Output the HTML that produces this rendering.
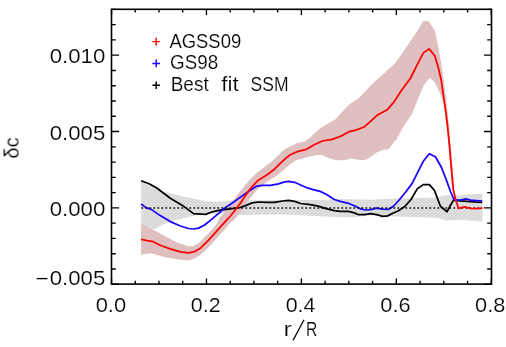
<!DOCTYPE html>
<html><head><meta charset="utf-8"><title>plot</title>
<style>
html,body{margin:0;padding:0;background:#fff;}
body{width:506px;height:347px;overflow:hidden;}
svg{display:block;}
text{font-family:"Liberation Sans",sans-serif;font-size:19.3px;fill:#000;stroke:#fff;stroke-width:0.18px;}
</style></head><body>
<svg width="506" height="347" viewBox="0 0 506 347">
<rect width="506" height="347" fill="#fff"/>
<polygon points="141.1,180.8 149.2,183.8 157.2,188.2 162.3,191.5 166.3,192.3 182.4,196.3 206.6,201.5 220.0,201.4 232.1,200.8 246.2,200.4 280.5,200.0 300.6,200.0 320.2,199.9 340.3,199.1 370.6,199.8 390.0,198.8 410.2,198.2 436.4,197.6 444.4,195.3 460.6,195.3 482.3,193.5 482.3,221.8 460.6,219.8 446.5,220.4 436.4,217.7 410.2,216.9 390.0,216.3 370.6,215.3 354.4,217.3 340.3,217.3 320.2,216.3 300.0,215.3 280.5,214.5 260.3,214.8 240.2,215.0 225.8,213.4 211.4,213.8 200.6,214.6 188.5,217.1 176.4,220.1 164.3,224.1 154.2,229.2 141.1,226.0" fill="#dcdcdc"/>
<polygon points="141.1,224.1 154.2,230.2 164.3,235.8 176.4,242.3 188.5,246.3 193.5,245.9 199.6,242.3 208.6,233.2 216.7,224.1 220.0,217.5 228.1,208.5 236.1,196.4 244.2,186.3 250.2,179.2 256.3,173.2 264.4,167.1 272.4,161.1 278.5,155.0 283.5,150.0 290.0,146.5 298.1,142.8 304.1,142.0 310.2,137.4 320.2,128.3 330.3,122.3 335.2,119.5 344.3,109.5 350.3,103.4 358.4,98.4 364.4,92.3 370.5,85.6 378.5,78.2 386.3,71.3 394.4,64.0 402.3,53.3 410.3,41.3 418.4,29.2 423.4,21.1 428.5,21.1 435.0,31.0 439.0,50.3 442.0,68.5 443.6,80.0 445.0,90.2 447.4,110.3 449.0,126.5 450.7,146.1 452.1,162.3 453.3,176.4 454.4,189.1 456.5,199.2 459.0,207.0 458.0,207.0 455.0,199.2 452.4,189.1 451.2,176.4 450.0,162.3 448.6,146.1 446.5,126.5 444.5,110.3 442.6,100.2 439.6,92.2 434.5,82.1 429.5,77.7 423.4,86.1 418.4,98.2 412.3,113.3 402.3,128.5 396.2,140.0 394.8,141.0 388.7,149.1 382.7,150.1 376.6,152.5 370.6,157.1 364.5,160.2 358.5,159.8 350.4,158.5 344.4,160.2 336.3,160.2 328.2,158.1 322.2,155.1 316.1,155.1 308.1,157.1 300.0,159.2 296.6,160.1 290.6,164.1 284.5,169.2 278.5,174.2 272.4,178.2 266.4,182.3 258.3,188.3 252.3,195.4 246.2,203.4 240.2,212.5 234.1,220.0 230.0,223.1 224.8,229.2 216.7,238.2 208.6,247.3 200.6,254.8 194.5,258.4 188.5,260.4 178.4,259.4 166.3,257.4 156.2,254.8 150.2,253.3 141.1,254.8" fill="#dfbfbf"/>
<polyline points="141.1,180.8 149.2,183.8 157.2,188.2 162.3,192.3 170.3,198.3 182.4,205.4 193.5,213.6 205.6,214.4 211.7,212.0 218.7,210.4 230.1,208.9 240.2,207.5 246.2,205.4 252.3,202.8 258.3,202.0 266.4,202.4 274.4,202.4 282.5,201.0 288.5,200.4 294.6,201.4 300.6,203.5 310.1,204.6 318.1,206.2 326.2,208.6 334.3,210.6 340.3,211.3 348.4,211.3 354.4,212.9 358.5,214.7 364.5,214.7 370.6,213.7 376.6,214.7 382.7,216.3 387.7,215.9 392.7,213.3 398.1,211.0 405.1,206.3 411.2,199.2 417.2,188.9 423.3,184.6 429.3,184.6 434.4,190.3 440.4,206.3 447.1,211.7 450.5,205.2 453.5,200.2 460.6,200.8 470.6,201.6 482.3,202.5" fill="none" stroke="#000" stroke-width="1.75" stroke-linejoin="round"/>
<polyline points="141.1,204.0 146.1,207.6 151.2,209.4 160.2,215.6 170.3,221.6 180.4,226.0 188.5,228.5 193.5,229.0 198.5,228.1 204.6,225.0 210.6,220.1 218.7,213.4 224.0,208.5 230.1,204.4 240.2,197.4 250.2,190.3 256.3,186.3 262.3,185.3 270.4,185.3 278.5,183.9 284.5,181.9 288.5,181.3 294.6,182.3 300.6,185.0 308.1,188.2 314.1,189.8 320.2,191.4 326.2,194.2 334.3,199.5 340.3,201.3 348.4,203.3 354.4,205.8 360.5,208.8 365.5,210.0 370.6,209.6 376.6,208.1 382.7,209.1 388.7,209.3 393.8,206.0 399.6,199.5 406.1,191.5 412.2,183.4 418.2,171.3 423.3,161.3 429.3,153.8 435.4,156.8 441.4,167.3 446.5,180.4 450.5,191.5 453.5,198.5 455.0,199.8 460.6,200.2 465.6,198.8 470.6,200.2 482.3,201.0" fill="none" stroke="#1a00ff" stroke-width="1.75" stroke-linejoin="round"/>
<line x1="141.5" y1="208.0" x2="482.3" y2="208.0" stroke="#000" stroke-width="1.6" stroke-dasharray="1.6 2.4"/>
<polyline points="141.1,239.4 147.1,240.6 152.2,241.3 160.2,245.3 170.3,248.9 180.4,251.9 188.5,252.9 194.5,251.7 200.6,247.9 208.6,240.2 216.7,231.2 224.8,222.1 230.0,216.5 234.1,211.5 240.2,203.4 246.2,194.4 252.3,186.3 258.3,180.2 266.4,175.2 274.4,169.2 280.5,163.1 286.5,157.6 290.0,155.0 294.6,152.8 298.1,151.4 306.4,149.3 314.2,144.8 322.3,141.0 332.3,139.4 340.4,136.4 348.5,131.9 356.5,129.9 364.6,126.7 370.6,121.3 376.7,115.6 387.6,109.4 393.7,102.4 400.7,91.5 410.3,78.5 412.3,74.5 418.4,62.4 423.4,52.9 429.1,48.9 434.9,56.0 438.5,68.5 441.2,80.0 442.6,90.2 445.6,110.3 447.6,126.5 449.5,146.1 450.9,162.3 452.1,176.4 453.2,189.1 455.5,199.2 458.5,208.3 464.6,206.9 470.6,208.3 476.7,208.7 482.3,208.2" fill="none" stroke="#ff0000" stroke-width="1.75" stroke-linejoin="round"/>
<path d="M111.50 284.1 v-5.6 M111.50 9.3 v5.6 M135.24 284.1 v-3.3 M135.24 9.3 v3.3 M158.97 284.1 v-3.3 M158.97 9.3 v3.3 M182.71 284.1 v-3.3 M182.71 9.3 v3.3 M206.45 284.1 v-5.6 M206.45 9.3 v5.6 M230.19 284.1 v-3.3 M230.19 9.3 v3.3 M253.93 284.1 v-3.3 M253.93 9.3 v3.3 M277.66 284.1 v-3.3 M277.66 9.3 v3.3 M301.40 284.1 v-5.6 M301.40 9.3 v5.6 M325.14 284.1 v-3.3 M325.14 9.3 v3.3 M348.88 284.1 v-3.3 M348.88 9.3 v3.3 M372.61 284.1 v-3.3 M372.61 9.3 v3.3 M396.35 284.1 v-5.6 M396.35 9.3 v5.6 M420.09 284.1 v-3.3 M420.09 9.3 v3.3 M443.83 284.1 v-3.3 M443.83 9.3 v3.3 M467.56 284.1 v-3.3 M467.56 9.3 v3.3 M491.30 284.1 v-5.6 M491.30 9.3 v5.6 M111.5 284.26 h7.6 M491.5 284.26 h-7.6 M111.5 268.99 h4.3 M491.5 268.99 h-4.3 M111.5 253.72 h4.3 M491.5 253.72 h-4.3 M111.5 238.44 h4.3 M491.5 238.44 h-4.3 M111.5 223.17 h4.3 M491.5 223.17 h-4.3 M111.5 207.90 h7.6 M491.5 207.90 h-7.6 M111.5 192.63 h4.3 M491.5 192.63 h-4.3 M111.5 177.36 h4.3 M491.5 177.36 h-4.3 M111.5 162.08 h4.3 M491.5 162.08 h-4.3 M111.5 146.81 h4.3 M491.5 146.81 h-4.3 M111.5 131.54 h7.6 M491.5 131.54 h-7.6 M111.5 116.27 h4.3 M491.5 116.27 h-4.3 M111.5 101.00 h4.3 M491.5 101.00 h-4.3 M111.5 85.72 h4.3 M491.5 85.72 h-4.3 M111.5 70.45 h4.3 M491.5 70.45 h-4.3 M111.5 55.18 h7.6 M491.5 55.18 h-7.6 M111.5 39.91 h4.3 M491.5 39.91 h-4.3 M111.5 24.64 h4.3 M491.5 24.64 h-4.3 M111.5 9.36 h4.3 M491.5 9.36 h-4.3" stroke="#000" stroke-width="1.35" fill="none"/>
<rect x="111.5" y="9.3" width="380.0" height="274.8" fill="none" stroke="#000" stroke-width="1.6"/>
<path d="M152.39999999999998 41.6 h7.6 M156.2 37.800000000000004 v7.6" stroke="#ff0000" stroke-width="1.45" fill="none"/>
<path d="M152.39999999999998 63.4 h7.6 M156.2 59.6 v7.6" stroke="#1a00ff" stroke-width="1.45" fill="none"/>
<path d="M152.39999999999998 85.3 h7.6 M156.2 81.5 v7.6" stroke="#000" stroke-width="1.45" fill="none"/>
<g opacity="0.999">
<text x="169.4" y="47.5" text-anchor="start" textLength="71.8" lengthAdjust="spacingAndGlyphs" >AGSS09</text>
<text x="170" y="69.2" text-anchor="start" textLength="48.1" lengthAdjust="spacingAndGlyphs" >GS98</text>
<text x="170.7" y="91.0" text-anchor="start" textLength="38" lengthAdjust="spacingAndGlyphs" >Best</text>
<text x="221.3" y="91.0" text-anchor="start" textLength="17.5" lengthAdjust="spacingAndGlyphs" >fit</text>
<text x="250.6" y="91.0" text-anchor="start" textLength="38" lengthAdjust="spacingAndGlyphs" >SSM</text>
<text x="105.3" y="63.2" text-anchor="end" textLength="55.6" lengthAdjust="spacingAndGlyphs" >0.010</text>
<text x="105.3" y="140.0" text-anchor="end" textLength="55.6" lengthAdjust="spacingAndGlyphs" >0.005</text>
<text x="105.3" y="216.1" text-anchor="end" textLength="55.6" lengthAdjust="spacingAndGlyphs" >0.000</text>
<text x="105.3" y="285.1" text-anchor="end" textLength="55.6" lengthAdjust="spacingAndGlyphs" >0.005</text>
<text x="35.6" y="285.1" text-anchor="start" textLength="13.2" lengthAdjust="spacingAndGlyphs" >−</text>
<text x="110.9" y="312.4" text-anchor="middle" textLength="30.5" lengthAdjust="spacingAndGlyphs" >0.0</text>
<text x="205.7" y="312.4" text-anchor="middle" textLength="29.8" lengthAdjust="spacingAndGlyphs" >0.2</text>
<text x="300.6" y="312.4" text-anchor="middle" textLength="29.8" lengthAdjust="spacingAndGlyphs" >0.4</text>
<text x="395.5" y="312.4" text-anchor="middle" textLength="30.3" lengthAdjust="spacingAndGlyphs" >0.6</text>
<text x="490.2" y="312.4" text-anchor="middle" textLength="30.2" lengthAdjust="spacingAndGlyphs" >0.8</text>
<text x="283.4" y="336.0" text-anchor="start" textLength="8.4" lengthAdjust="spacingAndGlyphs" >r</text>
<line x1="293.1" y1="340.2" x2="304.0" y2="319.8" stroke="#000" stroke-width="1.35"/>
<text x="305.9" y="336.0" text-anchor="start" textLength="11.3" lengthAdjust="spacingAndGlyphs" >R</text>
<text transform="translate(18.6,147.9) rotate(-90)" text-anchor="middle" textLength="21.5" lengthAdjust="spacingAndGlyphs">δc</text>
</g>
</svg>
</body></html>
